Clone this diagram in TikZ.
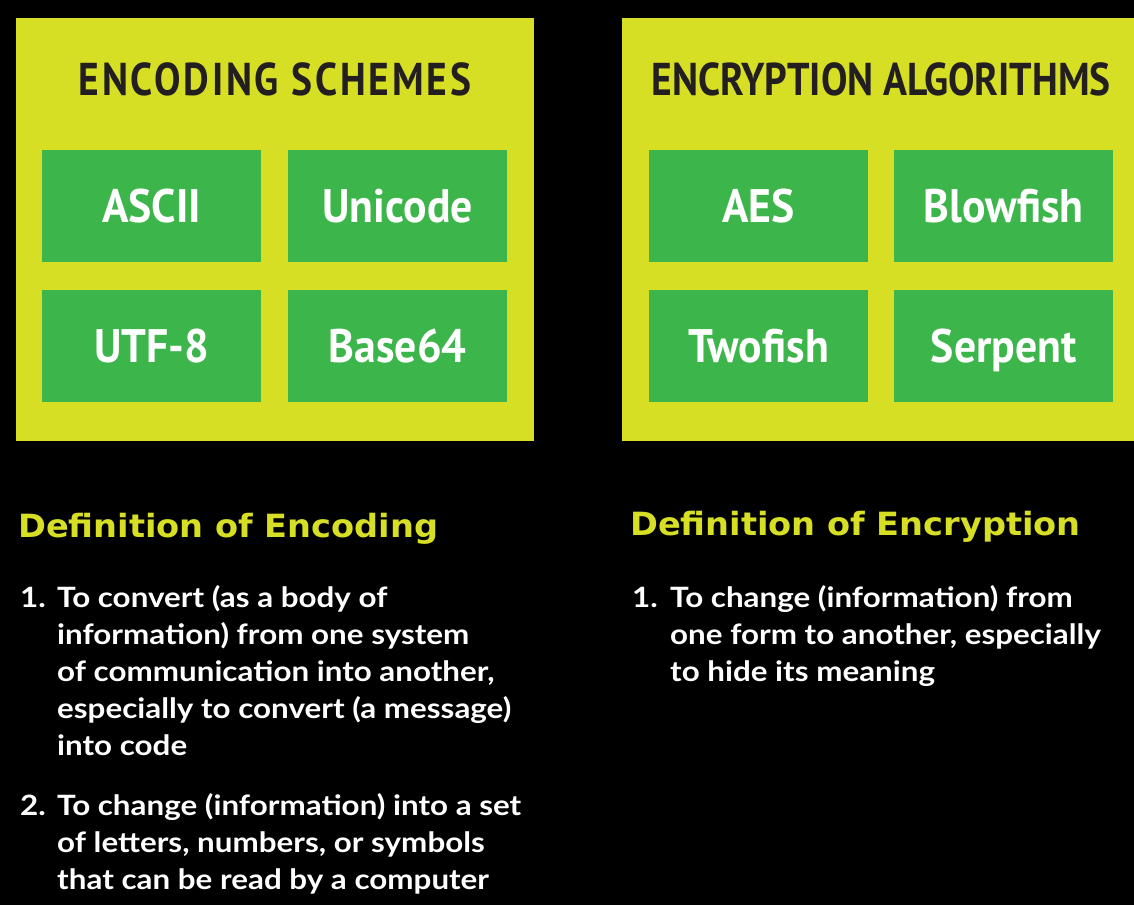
\documentclass[tikz,border=0pt]{standalone}
\usepackage{fontspec}
\setmainfont{Lato}[FakeStretch=1.12]
\newfontfamily\boxfont{PT Sans}[FakeStretch=0.93]
\newfontfamily\ttlfont{PT Sans}[FakeStretch=0.86]
\newfontfamily\hdrfont{DejaVu Sans}[FakeStretch=1.05]
\usetikzlibrary{positioning}
\definecolor{lime}{HTML}{D6DF23}
\definecolor{leaf}{HTML}{3CB54A}
\definecolor{ink}{HTML}{231F20}
\tikzset{
  panel/.style={fill=lime,anchor=north west,inner sep=0pt},
  algo/.style={fill=leaf,text=white,anchor=north west,inner sep=0pt,
               minimum width=219pt,minimum height=112pt,text depth=0pt,
               font=\boxfont\bfseries\fontsize{47}{47}\selectfont},
  ttl/.style={text=ink,inner sep=0pt,text depth=0pt,
              font=\ttlfont\bfseries\fontsize{46}{46}\selectfont},
  defhdr/.style={text=lime,anchor=base west,inner sep=0pt,
                 font=\hdrfont\bfseries\fontsize{32}{32}\selectfont},
  itm/.style={text=white,anchor=north west,inner sep=0pt,
              font=\bfseries\fontsize{28}{37}\selectfont},
}
\begin{document}
\begin{tikzpicture}[x=1pt,y=-1pt]
  \useasboundingbox[fill=black] (0,0) rectangle (1134,905);
  % the two panels
  \node[panel,minimum width=518pt,minimum height=423pt] (encpanel) at (16,18){};
  \node[panel,minimum width=512pt,minimum height=423pt] (crypanel) at (622,18){};
  \node[ttl] (enctitle) at (275,79){\addfontfeature{LetterSpace=6}ENCODING SCHEMES};
  \node[ttl] (crytitle) at (881,79){ENCRYPTION ALGORITHMS};
  \foreach \lbl/\x/\y [count=\i] in {ASCII/42/150,Unicode/288/150,UTF-8/42/290,
      Base64/288/290,AES/649/150,Blowfish/894/150,Twofish/649/290,Serpent/894/290}
    \node[algo] (algo\i) at (\x,\y){\lbl};
  % definitions
  \node[defhdr] (encdef) at (18,537){Definition of Encoding};
  \node[defhdr] (crydef) at (630,535){Definition of Encryption};
  \node[itm] (encitem1) at (20,581){\begin{tabular}{@{}p{37pt}@{}l@{}}
    1. & To convert (as a body of\\
       & information) from one system\\
       & of communication into another,\\
       & especially to convert (a message)\\
       & into code
  \end{tabular}};
  \node[itm] (encitem2) at (20,789){\begin{tabular}{@{}p{37pt}@{}l@{}}
    2. & To change (information) into a set\\
       & of letters, numbers, or symbols\\
       & that can be read by a computer
  \end{tabular}};
  \node[itm] (cryitem1) at (632,581){\begin{tabular}{@{}p{38pt}@{}l@{}}
    1. & To change (information) from\\
       & one form to another, especially\\
       & to hide its meaning
  \end{tabular}};
\end{tikzpicture}
\end{document}
